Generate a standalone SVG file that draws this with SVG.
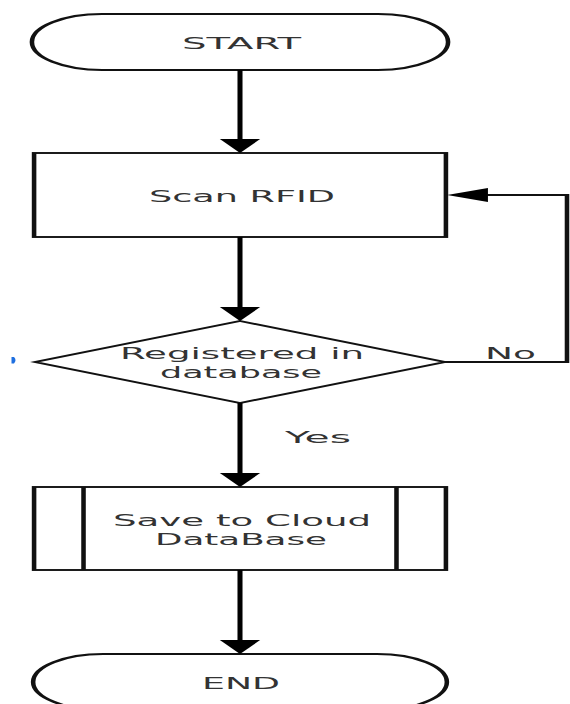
<svg xmlns="http://www.w3.org/2000/svg" width="570" height="704" viewBox="0 0 570 704">
<style>
.shape{fill:#fff;stroke:#111;stroke-width:1.9}
.ln{fill:none;stroke:#111;stroke-width:1.9}
.shaft{fill:none;stroke:#000;stroke-width:2.1}
.head{fill:#000;stroke:none}
.lbl{font-family:"DejaVu Sans","Liberation Sans",sans-serif;font-size:16.5px;fill:#333}
</style>
<rect width="570" height="704" fill="#fff"/>
<g id="start">
<g transform="translate(240,0) scale(2.4,1)"><rect class="shape" x="-86.7" y="14" width="173.4" height="56" rx="29.2" ry="28"/></g>
<text class="lbl" x="182" y="48.5" textLength="119" lengthAdjust="spacingAndGlyphs">START</text>
</g>
<g id="scan">
<g transform="translate(240,0) scale(2.4,1)"><rect class="shape" x="-85.8" y="153" width="171.6" height="84"/></g>
<text class="lbl" x="149" y="201.5" textLength="186" lengthAdjust="spacingAndGlyphs">Scan RFID</text>
</g>
<g id="decision">
<g transform="translate(240,0) scale(2.4,1)"><polygon class="shape" points="0,321 85.3,362 0,403 -85.3,362"/></g>
<text class="lbl" x="120" y="359" textLength="244" lengthAdjust="spacingAndGlyphs">Registered in</text>
<text class="lbl" x="160" y="377.5" textLength="162" lengthAdjust="spacingAndGlyphs">database</text>
</g>
<g id="save">
<g transform="translate(240,0) scale(2.4,1)"><rect class="shape" x="-85.8" y="487" width="171.6" height="83"/><line class="ln" x1="-65.2" y1="487" x2="-65.2" y2="570"/><line class="ln" x1="65.2" y1="487" x2="65.2" y2="570"/></g>
<text class="lbl" x="113" y="526" textLength="258" lengthAdjust="spacingAndGlyphs">Save to Cloud</text>
<text class="lbl" x="155" y="544.5" textLength="172" lengthAdjust="spacingAndGlyphs">DataBase</text>
</g>
<g id="end">
<g transform="translate(240,0) scale(2.4,1)"><rect class="shape" x="-86.2" y="654" width="172.4" height="56" rx="29.2" ry="28"/></g>
<text class="lbl" x="202" y="688.5" textLength="78" lengthAdjust="spacingAndGlyphs">END</text>
</g>
<g id="connectors">
<g transform="translate(240,0) scale(2.4,1)">
<line class="shaft" x1="0" y1="70" x2="0" y2="140"/>
<polygon class="head" points="-8.4,139 8.4,139 0,153"/>
<line class="shaft" x1="0" y1="237" x2="0" y2="308"/>
<polygon class="head" points="-8.4,307 8.4,307 0,321"/>
<line class="shaft" x1="0" y1="403" x2="0" y2="474"/>
<polygon class="head" points="-8.4,473 8.4,473 0,487"/>
<line class="shaft" x1="0" y1="570" x2="0" y2="641"/>
<polygon class="head" points="-8.4,640 8.4,640 0,654"/>
<path class="ln" d="M85.3,362 H136.25 V195 H103"/>
<polygon class="head" points="86.3,195 103.3,188 103.3,202"/>
</g>
<text class="lbl" x="485" y="358.5" textLength="51" lengthAdjust="spacingAndGlyphs">No</text>
<text class="lbl" x="285" y="443" textLength="66" lengthAdjust="spacingAndGlyphs">Yes</text>
</g>
<path d="M11.5,357 H14 Q17,360 14,363.5 H11.5 Z" fill="#1e6fe0"/>
</svg>
